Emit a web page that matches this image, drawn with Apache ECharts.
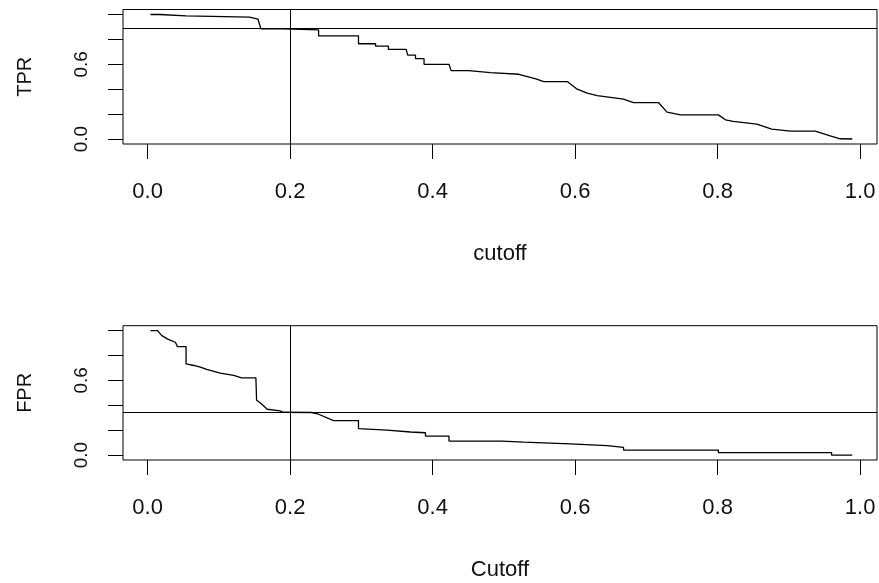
<!DOCTYPE html>
<html>
<head>
<meta charset="utf-8">
<script src="https://cdn.jsdelivr.net/npm/echarts@6/dist/echarts.min.js"></script>
<style>
  html, body { margin: 0; padding: 0; background: #fff; }
  #chart { width: 879px; height: 583px; }
</style>
</head>
<body>
<div id="chart"></div>
<script>
// TPR curve
const tprCutoff = [0.004, 0.017, 0.017, 0.054, 0.054, 0.143, 0.143, 0.155, 0.159, 0.19, 0.19, 0.240, 0.240, 0.296, 0.296, 0.320, 0.320, 0.338, 0.338, 0.363, 0.365, 0.376, 0.376, 0.388, 0.388, 0.423, 0.426, 0.451, 0.451, 0.481, 0.481, 0.521, 0.545, 0.556, 0.589, 0.603, 0.617, 0.631, 0.668, 0.682, 0.717, 0.729, 0.748, 0.801, 0.811, 0.822, 0.855, 0.876, 0.902, 0.937, 0.958, 0.972, 0.989];
const tprValues = [1.0, 1.0, 0.989, 0.989, 0.978, 0.978, 0.962, 0.962, 0.885, 0.885, 0.876, 0.876, 0.829, 0.829, 0.765, 0.765, 0.746, 0.746, 0.72, 0.72, 0.674, 0.674, 0.645, 0.645, 0.6, 0.6, 0.549, 0.549, 0.533, 0.533, 0.52, 0.52, 0.483, 0.461, 0.461, 0.40, 0.368, 0.349, 0.32, 0.293, 0.293, 0.216, 0.194, 0.194, 0.154, 0.141, 0.12, 0.08, 0.064, 0.064, 0.026, 0.002, 0.0];

// FPR curve
const fprCutoff = [0.004, 0.014, 0.020, 0.029, 0.039, 0.042, 0.054, 0.054, 0.065, 0.074, 0.083, 0.102, 0.121, 0.132, 0.152, 0.153, 0.158, 0.168, 0.186, 0.19, 0.23, 0.240, 0.261, 0.296, 0.296, 0.336, 0.369, 0.39, 0.39, 0.423, 0.423, 0.497, 0.497, 0.528, 0.528, 0.593, 0.593, 0.645, 0.645, 0.668, 0.668, 0.801, 0.801, 0.960, 0.960, 0.989];
const fprValues = [1.0, 1.0, 0.96, 0.93, 0.907, 0.872, 0.872, 0.733, 0.72, 0.707, 0.688, 0.659, 0.64, 0.621, 0.621, 0.44, 0.42, 0.368, 0.355, 0.344, 0.342, 0.328, 0.277, 0.277, 0.213, 0.2, 0.185, 0.179, 0.152, 0.152, 0.112, 0.112, 0.104, 0.104, 0.09, 0.09, 0.075, 0.075, 0.061, 0.061, 0.04, 0.04, 0.019, 0.019, 0.0, 0.0];

// reference lines
const cutLine = 0.2;
const tprLine = 0.885;
const fprLine = 0.342;

// ticks
const xTicks = [0, 0.2, 0.4, 0.6, 0.8, 1.0];
const yTicks = [0, 0.2, 0.4, 0.6, 0.8, 1.0];
const yLabels = [0, 0.6];

const font = 'Liberation Sans';
const ink = '#111';

function pairs(xs, ys) {
  return xs.map((x, i) => [x, ys[i]]);
}

function xAxis(idx, name) {
  return {
    type: 'value', gridIndex: idx, min: -0.0345, max: 1.0237,
    name: name, nameLocation: 'middle', nameGap: 99,
    nameTextStyle: { color: ink, fontFamily: font, fontSize: 22 },
    axisLine: { show: false, onZero: false },
    axisTick: { show: true, inside: false, length: 15, customValues: xTicks, lineStyle: { color: '#000', width: 1 } },
    axisLabel: { customValues: xTicks, margin: 37, color: ink, fontFamily: font, fontSize: 22,
      formatter: v => v.toFixed(1) },
    splitLine: { show: false }
  };
}

function yAxis(idx, name) {
  return {
    type: 'value', gridIndex: idx, min: -0.04, max: 1.04,
    name: name, nameLocation: 'middle', nameGap: 88,
    nameTextStyle: { color: ink, fontFamily: font, fontSize: 20 },
    axisLine: { show: false, onZero: false },
    axisTick: { show: true, inside: false, length: 15, customValues: yTicks, lineStyle: { color: '#000', width: 1 } },
    axisLabel: { customValues: yLabels, rotate: 90, margin: 32, color: ink, fontFamily: font, fontSize: 19,
      formatter: v => v.toFixed(1) },
    splitLine: { show: false }
  };
}

function curve(idx, data, hLine) {
  return {
    type: 'line', xAxisIndex: idx, yAxisIndex: idx,
    data: data, showSymbol: false, animation: false,
    lineStyle: { color: '#000', width: 1.3 },
    markLine: {
      silent: true, symbol: ['none', 'none'], animation: false,
      label: { show: false },
      lineStyle: { color: '#000', width: 1, type: 'solid' },
      data: [{ xAxis: cutLine }, { yAxis: hLine }]
    }
  };
}

const chart = echarts.init(document.getElementById('chart'));
chart.setOption({
  backgroundColor: '#fff',
  animation: false,
  grid: [
    { left: 123, right: 2, top: 9.5, height: 134.5, show: true, borderColor: '#000', borderWidth: 1 },
    { left: 123, right: 2, top: 325.7, height: 134.3, show: true, borderColor: '#000', borderWidth: 1 }
  ],
  xAxis: [xAxis(0, 'cutoff'), xAxis(1, 'Cutoff')],
  yAxis: [yAxis(0, 'TPR'), yAxis(1, 'FPR')],
  series: [
    curve(0, pairs(tprCutoff, tprValues), tprLine),
    curve(1, pairs(fprCutoff, fprValues), fprLine)
  ]
});
</script>
</body>
</html>
